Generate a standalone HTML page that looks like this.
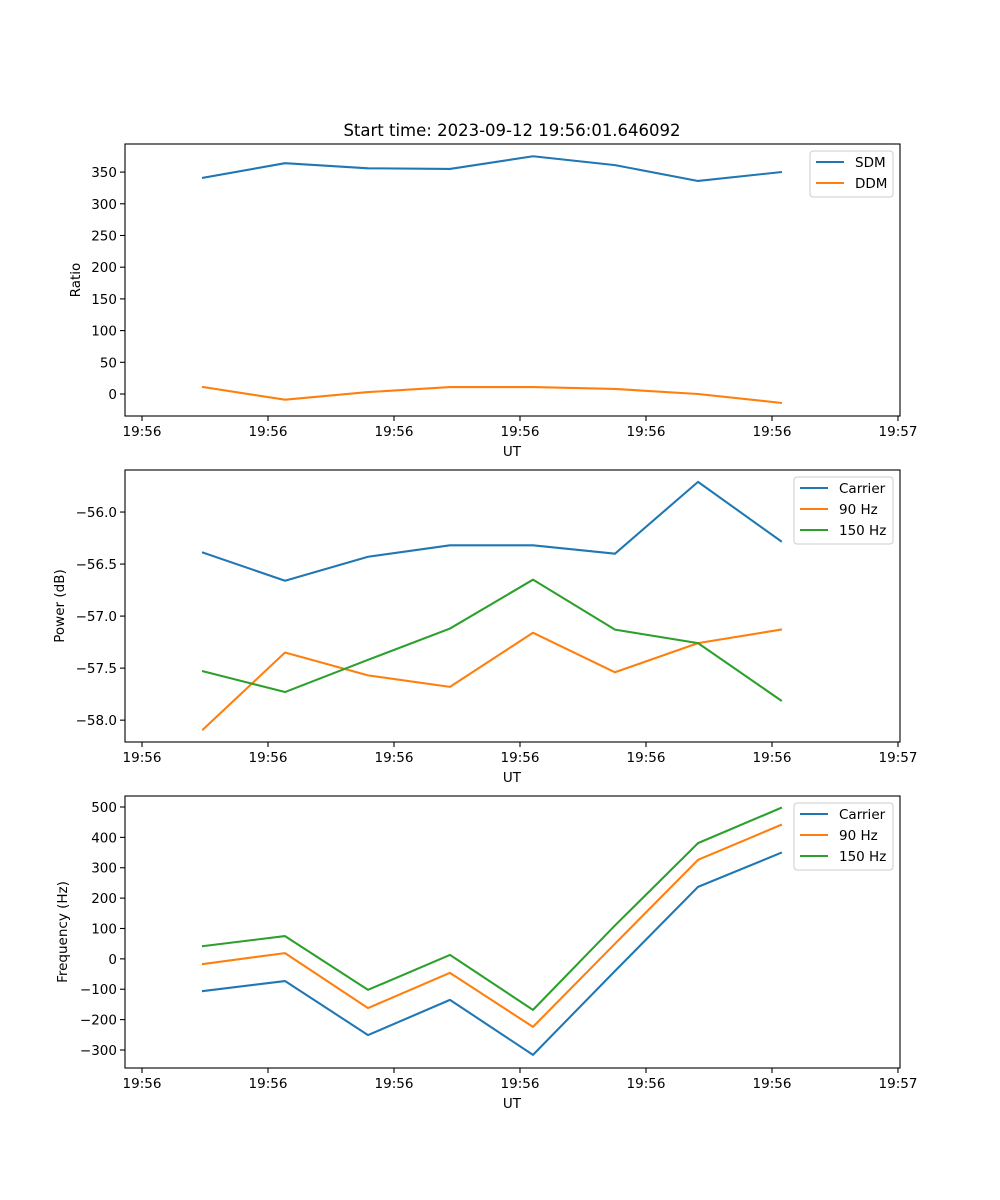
<!DOCTYPE html>
<html><head><meta charset="utf-8"><style>
body{margin:0;background:#fff;}
svg{display:block;font-family:"DejaVu Sans","Liberation Sans",sans-serif;}
</style></head><body>
<svg id="fig" width="1000" height="1200"></svg>
<script>
const xTickLabels = ["19:56","19:56","19:56","19:56","19:56","19:56","19:57"];
const xTickValues = [0,10,20,30,40,50,60];
const times = [4.84,11.35,17.94,24.44,31.03,37.54,44.13,50.71];
const sdm = [341,364,356,355,375,361,336,350];
const ddm = [11,-9,3,11,11,8,0,-14];
const ratioTicks = [0,50,100,150,200,250,300,350];
const pwrCarrier = [-56.39,-56.66,-56.43,-56.32,-56.32,-56.40,-55.71,-56.28];
const pwr90 = [-58.09,-57.35,-57.57,-57.68,-57.16,-57.54,-57.26,-57.13];
const pwr150 = [-57.53,-57.73,-57.42,-57.12,-56.65,-57.13,-57.26,-57.81];
const pwrTicks = [-58.0,-57.5,-57.0,-56.5,-56.0];
const frqCarrier = [-106,-73,-251,-135,-316,-40,237,349];
const frq90 = [-17,19,-162,-46,-224,50,326,441];
const frq150 = [42,75,-102,13,-168,110,381,497];
const frqTicks = [-300,-200,-100,0,100,200,300,400,500];

const NS="http://www.w3.org/2000/svg";
const svg=document.getElementById('fig');
function el(tag,attrs,parent){const e=document.createElementNS(NS,tag);for(const k in attrs)e.setAttribute(k,attrs[k]);(parent||svg).appendChild(e);return e;}
const L=125,R=900,xmin=-1.35,xmax=60.16;
const xs=v=>L+(v-xmin)/(xmax-xmin)*(R-L);
const C=['#1f77b4','#ff7f0e','#2ca02c'];

function panel(name,top,bot,ymin,ymax,yticks,fmt,ylabel,series,names,legend){
  const g=el('g',{});
  
  
  const ys=v=>bot-(v-ymin)/(ymax-ymin)*(bot-top);
  series.forEach((s,i)=>{
    const p=el('polyline',{points:s.map((v,j)=>xs(times[j])+','+ys(v)).join(' '),fill:'none',stroke:C[i],'stroke-width':2.08,'stroke-linejoin':'round','stroke-linecap':'square'},g);
    
    
  });
  el('rect',{x:L,y:top,width:R-L,height:bot-top,fill:'none',stroke:'#000','stroke-width':1.1},g);
  xTickValues.forEach((v,i)=>{
    const x=xs(v);
    el('line',{x1:x,x2:x,y1:bot,y2:bot+5,stroke:'#000','stroke-width':1.1},g);
    const t=el('text',{x:x,y:bot+20,'font-size':13.5,'text-anchor':'middle'},g);t.textContent=xTickLabels[i];
    
    
  });
  yticks.forEach(v=>{
    const y=ys(v);
    el('line',{x1:L-5,x2:L,y1:y,y2:y,stroke:'#000','stroke-width':1.1},g);
    const t=el('text',{x:L-8,y:y+5,'font-size':13.5,'text-anchor':'end'},g);t.textContent=fmt(v);
    
    
  });
  const xl=el('text',{x:512,y:bot+40,'font-size':13.5,'text-anchor':'middle'},g);xl.textContent='UT';
  
  
  const cy=(top+bot)/2, lx=legend.ylx;
  const yl=el('text',{x:lx,y:cy,'font-size':13.5,'text-anchor':'middle',transform:`rotate(-90 ${lx} ${cy})`},g);yl.textContent=ylabel;
  
  
  const lg=el('g',{},g);
  
  
  el('rect',{x:legend.x,y:top+7,width:893-legend.x,height:names.length*21+4,rx:3,fill:'#fff',stroke:'#ccc','stroke-width':1},lg);
  names.forEach((n,i)=>{
    const y=top+18+i*21;
    el('line',{x1:legend.x+6,x2:legend.x+34,y1:y,y2:y,stroke:C[i],'stroke-width':2.08},lg);
    const t=el('text',{x:legend.x+45,y:y+5,'font-size':13.5},lg);t.textContent=n;
    
    
  });
}
const title=el('text',{x:512,y:136,'font-size':16.5,'text-anchor':'middle'});
title.textContent='Start time: 2023-09-12 19:56:01.646092';


panel('ratio-panel',144,416,-34.7,394.3,ratioTicks,v=>String(v),'Ratio',[sdm,ddm],['SDM','DDM'],{x:810,ylx:80});
panel('power-panel',470,742,-58.21,-55.596,pwrTicks,v=>(v<0?'\u2212':'')+Math.abs(v).toFixed(1),'Power (dB)',[pwrCarrier,pwr90,pwr150],['Carrier','90 Hz','150 Hz'],{x:794,ylx:64});
panel('frequency-panel',796,1068,-359.3,536.2,frqTicks,v=>(v<0?'\u2212':'')+Math.abs(v),'Frequency (Hz)',[frqCarrier,frq90,frq150],['Carrier','90 Hz','150 Hz'],{x:794,ylx:67});
</script>
</body></html>
